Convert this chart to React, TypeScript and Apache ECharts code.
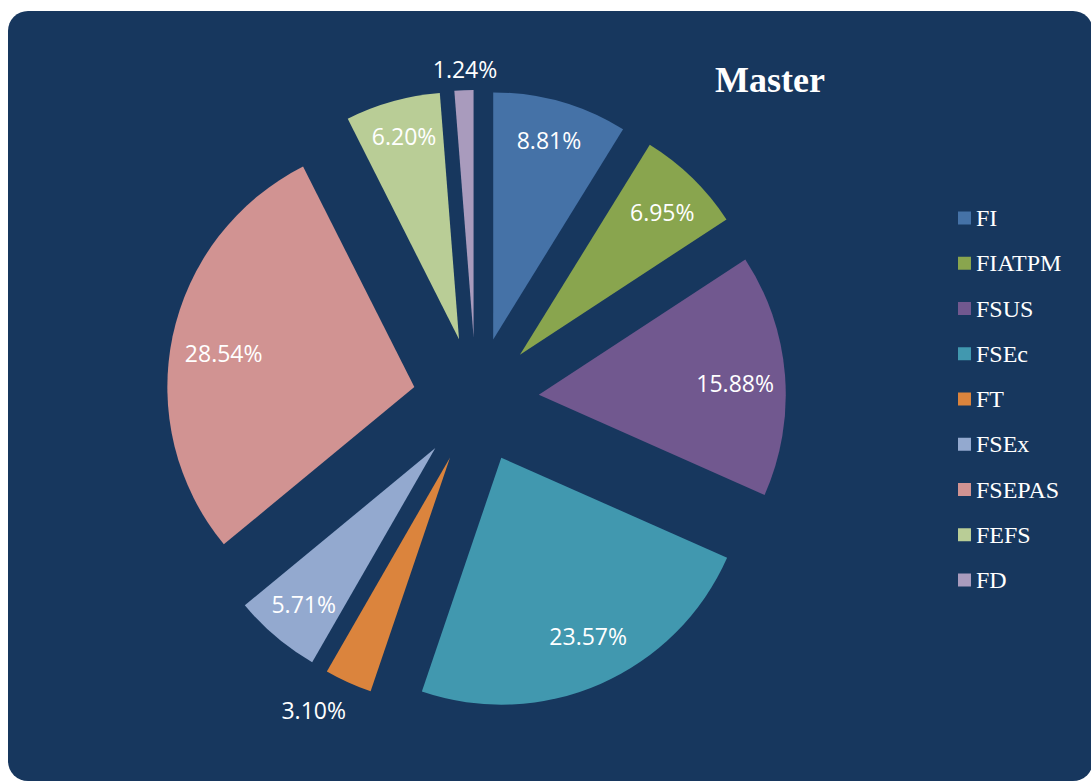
import React, { useEffect, useRef } from "react";
import * as echarts from "echarts";

const categories = ["FI", "FIATPM", "FSUS", "FSEc", "FT", "FSEx", "FSEPAS", "FEFS", "FD"];
const values = [8.81, 6.95, 15.88, 23.57, 3.1, 5.71, 28.54, 6.2, 1.24];
const colors = ["#4572A7", "#89A54E", "#71588F", "#4198AF", "#DB843D", "#93A9CF", "#D19392", "#B9CD96", "#A99BBD"];
const innerLabelNames = ["FI", "FIATPM", "FSUS", "FSEc", "FSEx", "FSEPAS", "FEFS"];
const titleText = "Master";

// small label nudges (pixels) to mimic the reference's label placement
const labelNudge: Record<string, number[]> = {
  FI: [0, -3],
  FIATPM: [0, 3],
  FSUS: [-7, 5],
  FSEc: [5, -9],
  FT: [-16, -13],
  FSEPAS: [9, 8],
  FEFS: [0, -7],
  FD: [2, 2],
};

function nudgePadding(n: string) {
  const [dx] = labelNudge[n] || [0, 0];
  return [0, Math.max(0, -2 * dx), 0, Math.max(0, 2 * dx)];
}

export default function App() {
  const ref = useRef<HTMLDivElement>(null);
  useEffect(() => {
    document.body.style.margin = "0";
    const chart = echarts.init(ref.current!, null, { renderer: "svg" });
    const center = [476, 400];
    const R = 247;
    const off = 63;
    const fmtFor = (n: string) => (p: any) => {
      const dy = (labelNudge[n] || [0, 0])[1];
      const t = p.value.toFixed(2) + "%";
      return dy < 0 ? t + "\n " : dy > 0 ? " \n" + t : t;
    };
    const labelStyle = {
      color: "#FFFFFF",
      fontFamily: "Open Sans",
      fontSize: 23,
    };
    const overlay = (radius: number[], show: (n: string) => boolean) => ({
      type: "pie",
      center,
      radius,
      startAngle: 90,
      clockwise: true,
      selectedMode: "multiple",
      selectedOffset: off,
      silent: true,
      emphasis: { disabled: true },
      labelLine: { show: false },
      itemStyle: { color: "rgba(0,0,0,0)", borderWidth: 0 },
      data: categories.map((n, i) => {
        const dy = (labelNudge[n] || [0, 0])[1];
        return {
          name: n,
          value: values[i],
          selected: true,
          label: {
            show: show(n),
            position: "inside",
            formatter: fmtFor(n),
            padding: nudgePadding(n),
            lineHeight: dy !== 0 ? 2 * Math.abs(dy) : 28,
            ...labelStyle,
          },
        };
      }),
    });
    chart.setOption({
      animation: false,
      backgroundColor: "#FFFFFF",
      graphic: [
        {
          type: "rect",
          z: -10,
          silent: true,
          shape: { x: 8, y: 11, width: 1085, height: 770, r: 20 },
          style: { fill: "#17375E" },
        },
      ],
      title: {
        text: titleText,
        left: 710,
        top: 57,
        padding: 5,
        textStyle: {
          color: "#FFFFFF",
          fontFamily: "Liberation Serif",
          fontWeight: "bold",
          fontSize: 36,
        },
      },
      legend: {
        orient: "vertical",
        left: 958,
        top: 206,
        padding: 0,
        itemWidth: 13,
        itemHeight: 13,
        itemGap: 21.25,
        icon: "rect",
        data: categories.map((n, i) => ({ name: n, itemStyle: { color: colors[i] } })),
        textStyle: {
          color: "#FFFFFF",
          fontFamily: "Liberation Serif",
          fontSize: 24,
          lineHeight: 24,
        },
      },
      series: [
        {
          type: "pie",
          center,
          radius: R,
          startAngle: 90,
          clockwise: true,
          selectedMode: "multiple",
          selectedOffset: off,
          emphasis: { disabled: true },
          label: { show: false },
          labelLine: { show: false },
          data: categories.map((n, i) => ({
            name: n,
            value: values[i],
            selected: true,
            itemStyle: { color: colors[i] },
          })),
        },
        overlay([155, R], (n) => innerLabelNames.includes(n)),
        overlay([R, R + 40], (n) => n === "FD"),
        overlay([R, R + 84], (n) => n === "FT"),
      ],
    });
    return () => chart.dispose();
  }, []);
  return <div ref={ref} style={{ width: 1091, height: 782 }} />;
}
